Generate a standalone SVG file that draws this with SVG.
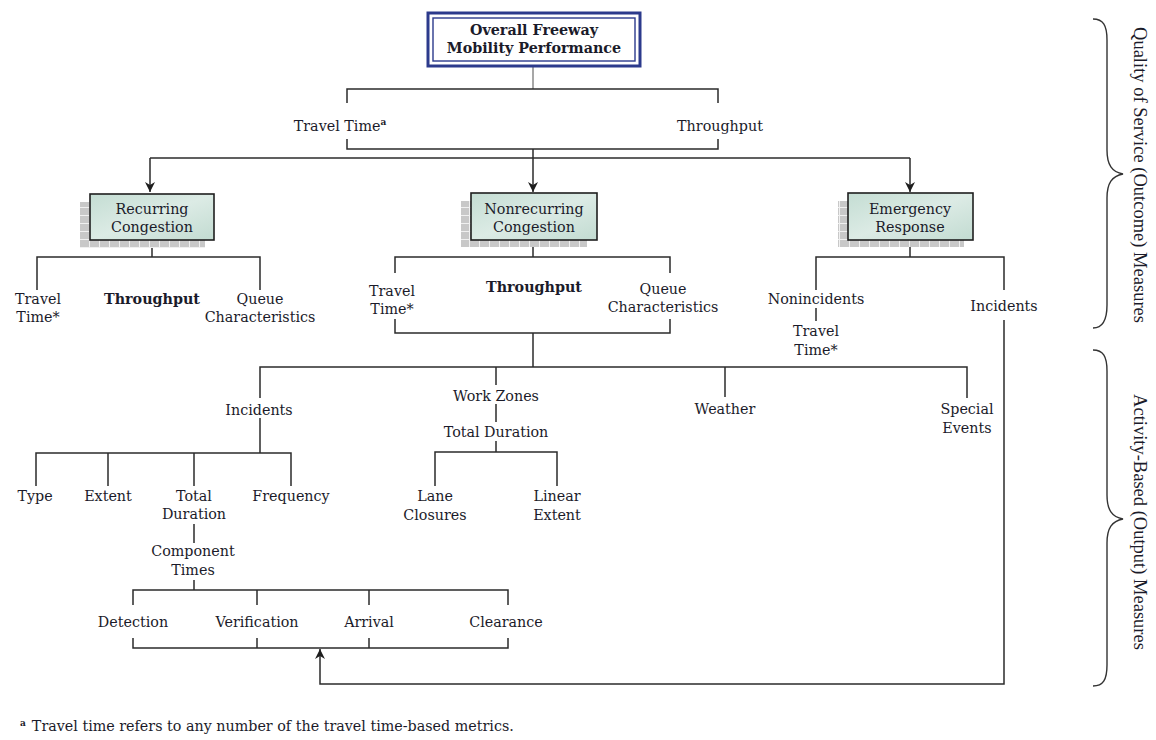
<svg xmlns="http://www.w3.org/2000/svg" width="1156" height="740" viewBox="0 0 1156 740">
  <style>
    .t { font-family: "DejaVu Serif", "Liberation Serif", serif; font-size: 14.3px; fill: #1b1b2a; text-anchor: middle; }
    .b { font-weight: bold; }
    .side { font-family: "Liberation Serif", serif; font-size: 18.5px; fill: #1b1b2a; text-anchor: middle; }
    .ln { fill: none; stroke: #2b2b2b; stroke-width: 1.5; }
    .brace { fill: none; stroke: #333; stroke-width: 1.4; }
    .box { fill: url(#boxFill); stroke: #1e1e1e; stroke-width: 1.6; }
    .shadow { fill: url(#grid); }
  </style>
  <defs>
    <linearGradient id="boxFill" x1="0" y1="0" x2="1" y2="1">
      <stop offset="0" stop-color="#c4ddd3"/>
      <stop offset="0.5" stop-color="#dcebe5"/>
      <stop offset="1" stop-color="#c2dbd1"/>
    </linearGradient>
    <pattern id="grid" width="10" height="8" patternUnits="userSpaceOnUse">
      <rect width="10" height="8" fill="#c8c8c8"/>
      <path d="M0 7.5H10M9.5 0V8" stroke="#f0f0f0" stroke-width="1"/>
    </pattern>
    <marker id="arr" viewBox="0 0 10 10" refX="10" refY="5" markerWidth="10" markerHeight="10" orient="auto-start-reverse" markerUnits="userSpaceOnUse">
      <path d="M0 0L10 5L0 10L3 5Z" fill="#1e1e1e"/>
    </marker>
  </defs>

  <!-- connectors -->
  <g id="connectors">
    <path class="ln" d="M533 66V89" style="stroke:#8a8a8a"/>
    <path class="ln" d="M347 103V89H718V103"/>
    <path class="ln" d="M347 139V149H718V139"/>
    <path class="ln" d="M533 149V192" marker-end="url(#arr)"/>
    <path class="ln" d="M150 158H910"/>
    <path class="ln" d="M150 158V192" marker-end="url(#arr)"/>
    <path class="ln" d="M910 158V192" marker-end="url(#arr)"/>

    <!-- recurring -->
    <path class="ln" d="M152 240V257"/>
    <path class="ln" d="M37 290V257H260V290"/>

    <!-- nonrecurring -->
    <path class="ln" d="M533 240V257"/>
    <path class="ln" d="M395 273V257H670V273"/>
    <path class="ln" d="M395 319V333H670V319"/>
    <path class="ln" d="M533 333V367"/>

    <!-- emergency -->
    <path class="ln" d="M910 240V257"/>
    <path class="ln" d="M816 290V257H1004V290"/>
    <path class="ln" d="M816 308V321"/>
    <path class="ln" d="M1004 320V684H320V649" marker-end="url(#arr)"/>

    <!-- activity level -->
    <path class="ln" d="M260 398V367H967V398"/>
    <path class="ln" d="M496 367V385"/>
    <path class="ln" d="M725 367V397"/>

    <!-- work zones -->
    <path class="ln" d="M496 404V422"/>
    <path class="ln" d="M496 441V452"/>
    <path class="ln" d="M435 486V452H557V486"/>

    <!-- incidents -->
    <path class="ln" d="M260 418V453"/>
    <path class="ln" d="M36 486V453H291V486"/>
    <path class="ln" d="M108 453V486"/>
    <path class="ln" d="M194 453V486"/>
    <path class="ln" d="M194 524V543"/>
    <path class="ln" d="M194 580V590"/>
    <path class="ln" d="M133 605V590H508V605"/>
    <path class="ln" d="M257 590V605"/>
    <path class="ln" d="M369 590V605"/>
    <path class="ln" d="M133 638V648H508V638"/>
    <path class="ln" d="M257 638V648"/>
    <path class="ln" d="M369 638V648"/>
  </g>

  <!-- top node -->
  <g id="overall">
    <rect x="428" y="13" width="212" height="53" fill="#fff" stroke="#2c3a8c" stroke-width="3"/>
    <rect x="433" y="18" width="202" height="43" fill="none" stroke="#2c3a8c" stroke-width="1.4"/>
    <text class="t b" x="534" y="35">Overall Freeway</text>
    <text class="t b" x="534" y="53">Mobility Performance</text>
  </g>

  <g id="tt-top"><text class="t" x="340" y="131">Travel Time<tspan font-size="9" font-weight="bold" dy="-6">a</tspan></text></g>
  <g id="thr-top"><text class="t" x="720" y="131">Throughput</text></g>

  <g id="recurring">
    <rect class="shadow" x="80" y="202" width="125" height="46"/>
    <rect class="box" x="90" y="194" width="124" height="46"/>
    <text class="t" x="152" y="214">Recurring</text>
    <text class="t" x="152" y="232">Congestion</text>
  </g>
  <g id="nonrecurring">
    <rect class="shadow" x="461" y="201" width="126" height="46"/>
    <rect class="box" x="471" y="193" width="126" height="47"/>
    <text class="t" x="534" y="214">Nonrecurring</text>
    <text class="t" x="534" y="232">Congestion</text>
  </g>
  <g id="emergency">
    <rect class="shadow" x="838" y="201" width="126" height="46"/>
    <rect class="box" x="848" y="193" width="125" height="47"/>
    <text class="t" x="910" y="214">Emergency</text>
    <text class="t" x="910" y="232">Response</text>
  </g>

  <!-- recurring measures -->
  <g id="r-tt"><text class="t" x="38" y="304">Travel</text><text class="t" x="38" y="322">Time*</text></g>
  <g id="r-thr"><text class="t b" x="152" y="304">Throughput</text></g>
  <g id="r-queue"><text class="t" x="260" y="304">Queue</text><text class="t" x="260" y="322">Characteristics</text></g>

  <!-- nonrecurring measures -->
  <g id="n-tt"><text class="t" x="392" y="296">Travel</text><text class="t" x="392" y="314">Time*</text></g>
  <g id="n-thr"><text class="t b" x="534" y="292">Throughput</text></g>
  <g id="n-queue"><text class="t" x="663" y="294">Queue</text><text class="t" x="663" y="312">Characteristics</text></g>

  <!-- emergency measures -->
  <g id="nonincidents"><text class="t" x="816" y="304">Nonincidents</text></g>
  <g id="e-tt"><text class="t" x="816" y="336">Travel</text><text class="t" x="816" y="355">Time*</text></g>
  <g id="e-incidents"><text class="t" x="1004" y="311">Incidents</text></g>

  <!-- activity-based -->
  <g id="incidents"><text class="t" x="259" y="415">Incidents</text></g>
  <g id="workzones"><text class="t" x="496" y="401">Work Zones</text></g>
  <g id="wz-duration"><text class="t" x="496" y="437">Total Duration</text></g>
  <g id="weather"><text class="t" x="725" y="414">Weather</text></g>
  <g id="special"><text class="t" x="967" y="414">Special</text><text class="t" x="967" y="433">Events</text></g>

  <g id="lane"><text class="t" x="435" y="501">Lane</text><text class="t" x="435" y="520">Closures</text></g>
  <g id="linear"><text class="t" x="557" y="501">Linear</text><text class="t" x="557" y="520">Extent</text></g>

  <g id="type"><text class="t" x="35" y="501">Type</text></g>
  <g id="extent"><text class="t" x="108" y="501">Extent</text></g>
  <g id="total"><text class="t" x="194" y="501">Total</text><text class="t" x="194" y="519">Duration</text></g>
  <g id="frequency"><text class="t" x="291" y="501">Frequency</text></g>

  <g id="component"><text class="t" x="193" y="556">Component</text><text class="t" x="193" y="575">Times</text></g>

  <g id="detection"><text class="t" x="133" y="627">Detection</text></g>
  <g id="verification"><text class="t" x="257" y="627">Verification</text></g>
  <g id="arrival"><text class="t" x="369" y="627">Arrival</text></g>
  <g id="clearance"><text class="t" x="506" y="627">Clearance</text></g>

  <!-- side braces -->
  <g id="brace-quality">
    <path class="brace" d="M1093 19C1103 19 1107 25 1107 40V150C1107 165 1112 172 1123 174C1112 176 1107 183 1107 198V305C1107 320 1103 328 1093 328"/>
    <text class="side" transform="translate(1134 175) rotate(90)">Quality of Service (Outcome) Measures</text>
  </g>
  <g id="brace-activity">
    <path class="brace" d="M1093 350C1103 350 1107 356 1107 371V495C1107 510 1112 517 1123 519C1112 521 1107 528 1107 543V665C1107 680 1103 686 1093 686"/>
    <text class="side" transform="translate(1134 522) rotate(90)">Activity-Based (Output) Measures</text>
  </g>

  <!-- footnote -->
  <g id="footnote">
    <text class="t" x="20" y="731" style="text-anchor:start"><tspan font-size="9" font-weight="bold" dy="-5">a</tspan><tspan dx="6" dy="5">Travel time refers to any number of the travel time-based metrics.</tspan></text>
  </g>
</svg>
